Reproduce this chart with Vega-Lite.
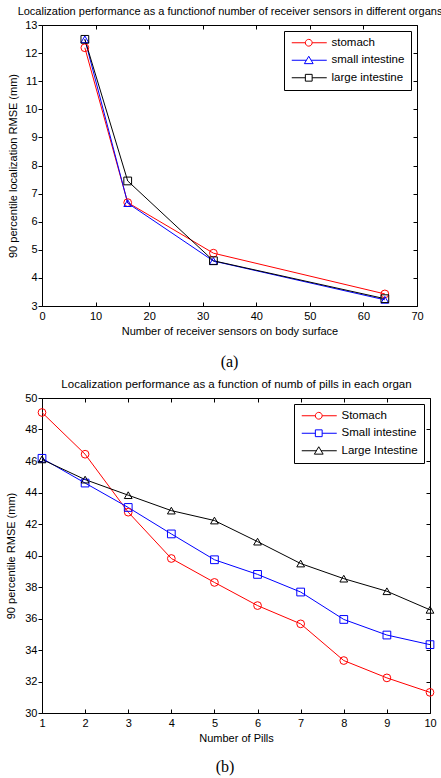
{
  "$schema": "https://vega.github.io/schema/vega-lite/v6.json",
  "padding": {"left": 5, "top": 5, "right": 0, "bottom": 0},
  "background": "white",
  "datasets": {
    "a": [
      {"s": "stomach", "n": 8, "v": 12.19},
      {"s": "stomach", "n": 16, "v": 6.68},
      {"s": "stomach", "n": 32, "v": 4.88},
      {"s": "stomach", "n": 64, "v": 3.43},
      {"s": "small intestine", "n": 8, "v": 12.49},
      {"s": "small intestine", "n": 16, "v": 6.66},
      {"s": "small intestine", "n": 32, "v": 4.6},
      {"s": "small intestine", "n": 64, "v": 3.22},
      {"s": "large intestine", "n": 8, "v": 12.49},
      {"s": "large intestine", "n": 16, "v": 7.45},
      {"s": "large intestine", "n": 32, "v": 4.61},
      {"s": "large intestine", "n": 64, "v": 3.26}
    ],
    "b": [
      {"s": "Stomach", "n": 1, "v": 49.08},
      {"s": "Stomach", "n": 2, "v": 46.43},
      {"s": "Stomach", "n": 3, "v": 42.75},
      {"s": "Stomach", "n": 4, "v": 39.81},
      {"s": "Stomach", "n": 5, "v": 38.29},
      {"s": "Stomach", "n": 6, "v": 36.82},
      {"s": "Stomach", "n": 7, "v": 35.66},
      {"s": "Stomach", "n": 8, "v": 33.33},
      {"s": "Stomach", "n": 9, "v": 32.23},
      {"s": "Stomach", "n": 10, "v": 31.31},
      {"s": "Small intestine", "n": 1, "v": 46.17},
      {"s": "Small intestine", "n": 2, "v": 44.6},
      {"s": "Small intestine", "n": 3, "v": 43.05},
      {"s": "Small intestine", "n": 4, "v": 41.37},
      {"s": "Small intestine", "n": 5, "v": 39.73},
      {"s": "Small intestine", "n": 6, "v": 38.8},
      {"s": "Small intestine", "n": 7, "v": 37.68},
      {"s": "Small intestine", "n": 8, "v": 35.94},
      {"s": "Small intestine", "n": 9, "v": 34.95},
      {"s": "Small intestine", "n": 10, "v": 34.34},
      {"s": "Large Intestine", "n": 1, "v": 46.1},
      {"s": "Large Intestine", "n": 2, "v": 44.82},
      {"s": "Large Intestine", "n": 3, "v": 43.83},
      {"s": "Large Intestine", "n": 4, "v": 42.85},
      {"s": "Large Intestine", "n": 5, "v": 42.22},
      {"s": "Large Intestine", "n": 6, "v": 40.88},
      {"s": "Large Intestine", "n": 7, "v": 39.49},
      {"s": "Large Intestine", "n": 8, "v": 38.53},
      {"s": "Large Intestine", "n": 9, "v": 37.73},
      {"s": "Large Intestine", "n": 10, "v": 36.55}
    ]
  },
  "config": {
    "font": "Liberation Sans",
    "view": {"stroke": "black", "strokeWidth": 1},
    "axis": {
      "grid": false, "domain": false, "tickColor": "black", "tickWidth": 1,
      "labelColor": "black", "titleColor": "black", "labelFontSize": 11, "titleFontSize": 11,
      "titleFontWeight": "normal", "labelFlush": false, "labelOverlap": false
    },
    "legend": {
      "orient": "top-right", "offset": 6, "strokeColor": "black", "fillColor": "white",
      "padding": 6, "labelFontSize": 11.5, "labelColor": "black", "symbolSize": 64,
      "symbolStrokeWidth": 1, "rowPadding": 4.5, "labelOffset": 30
    },
    "title": {"font": "Liberation Serif", "fontSize": 16, "fontWeight": "normal", "color": "black"}
  },
  "spacing": 7,
  "vconcat": [
    {
      "width": 375, "height": 281,
      "data": {"name": "a"},
      "title": {"text": "(a)", "orient": "bottom", "offset": 18},
      "layer": [
        {
          "mark": {"type": "line", "strokeWidth": 1},
          "encoding": {
            "x": {"field": "n", "type": "quantitative", "scale": {"domain": [0, 70], "nice": false},
              "axis": {"orient": "bottom", "values": [0, 10, 20, 30, 40, 50, 60, 70], "tickSize": -4, "labelPadding": 8,
                "title": "Number of receiver sensors on body surface", "titlePadding": 4}},
            "y": {"field": "v", "type": "quantitative", "scale": {"domain": [3, 13], "nice": false, "zero": false},
              "axis": {"orient": "left", "values": [3, 4, 5, 6, 7, 8, 9, 10, 11, 12, 13], "tickSize": 4, "labelPadding": 1,
                "title": "90 percentile localization RMSE (mm)", "titlePadding": 6}},
            "color": {"field": "s", "type": "nominal",
              "scale": {"domain": ["stomach", "small intestine", "large intestine"], "range": ["#ff0000", "#0000ff", "#000000"]},
              "legend": null}
          }
        },
        {
          "mark": {"type": "point", "filled": false, "size": 60, "strokeWidth": 1, "opacity": 1},
          "encoding": {
            "x": {"field": "n", "type": "quantitative", "scale": {"domain": [0, 70], "nice": false}, "axis": null},
            "y": {"field": "v", "type": "quantitative", "scale": {"domain": [3, 13], "nice": false, "zero": false}, "axis": null},
            "color": {"field": "s", "type": "nominal",
              "scale": {"domain": ["stomach", "small intestine", "large intestine"], "range": ["#ff0000", "#0000ff", "#000000"]},
              "legend": null},
            "shape": {"field": "s", "type": "nominal",
              "scale": {"domain": ["stomach", "small intestine", "large intestine"], "range": ["circle", "triangle-up", "square"]},
              "legend": null}
          }
        },
        {
          "transform": [{"filter": "datum.n < 0"}],
          "mark": {"type": "point", "filled": false, "size": 64, "strokeWidth": 1, "opacity": 1},
          "encoding": {
            "x": {"field": "n", "type": "quantitative", "scale": {"domain": [0, 70], "nice": false},
              "axis": {"orient": "top", "values": [0, 10, 20, 30, 40, 50, 60, 70], "labels": false, "tickSize": -4,
                "title": "Localization performance as a functionof number of receiver sensors in different organs", "titlePadding": 8}},
            "y": {"field": "v", "type": "quantitative", "scale": {"domain": [3, 13], "nice": false, "zero": false},
              "axis": {"orient": "right", "values": [3, 4, 5, 6, 7, 8, 9, 10, 11, 12, 13], "labels": false, "tickSize": -4, "title": null}},
            "color": {"field": "s", "type": "nominal",
              "scale": {"domain": ["stomach", "small intestine", "large intestine"], "range": ["#ff0000", "#0000ff", "#000000"]},
              "legend": {"title": null}},
            "shape": {"field": "s", "type": "nominal",
              "scale": {"domain": ["stomach", "small intestine", "large intestine"],
                "range": [
                  "M-1,0L2.4,0M4.1,0L7.75,0M4.1,0A0.85,0.85,0,1,1,2.4,0A0.85,0.85,0,1,1,4.1,0",
                  "M-1,0L2.66,0M3.84,0L7.75,0M3.25,-1L4.35,0.85L2.15,0.85Z",
                  "M-1,0L2.4,0M4.1,0L7.75,0M2.4,-0.85L4.1,-0.85L4.1,0.85L2.4,0.85Z"
                ]},
              "legend": {"title": null}}
          }
        }
      ],
      "resolve": {"axis": {"x": "independent", "y": "independent"}, "scale": {"shape": "independent", "color": "independent"}}
    },
    {
      "width": 388, "height": 315,
      "data": {"name": "b"},
      "title": {"text": "(b)", "orient": "bottom", "offset": 16, "dx": -11},
      "layer": [
        {
          "mark": {"type": "line", "strokeWidth": 1},
          "encoding": {
            "x": {"field": "n", "type": "quantitative", "scale": {"domain": [1, 10], "nice": false, "zero": false},
              "axis": {"orient": "bottom", "values": [1, 2, 3, 4, 5, 6, 7, 8, 9, 10], "tickSize": -4, "labelPadding": 8,
                "title": "Number of Pills", "titlePadding": 4}},
            "y": {"field": "v", "type": "quantitative", "scale": {"domain": [30, 50], "nice": false, "zero": false},
              "axis": {"orient": "left", "values": [30, 32, 34, 36, 38, 40, 42, 44, 46, 48, 50], "tickSize": 4, "labelPadding": 1,
                "title": "90 percentile RMSE (mm)", "titlePadding": 8}},
            "color": {"field": "s", "type": "nominal",
              "scale": {"domain": ["Stomach", "Small intestine", "Large Intestine"], "range": ["#ff0000", "#0000ff", "#000000"]},
              "legend": null}
          }
        },
        {
          "mark": {"type": "point", "filled": false, "size": 60, "strokeWidth": 1, "opacity": 1},
          "encoding": {
            "x": {"field": "n", "type": "quantitative", "scale": {"domain": [1, 10], "nice": false, "zero": false}, "axis": null},
            "y": {"field": "v", "type": "quantitative", "scale": {"domain": [30, 50], "nice": false, "zero": false}, "axis": null},
            "color": {"field": "s", "type": "nominal",
              "scale": {"domain": ["Stomach", "Small intestine", "Large Intestine"], "range": ["#ff0000", "#0000ff", "#000000"]},
              "legend": null},
            "shape": {"field": "s", "type": "nominal",
              "scale": {"domain": ["Stomach", "Small intestine", "Large Intestine"], "range": ["circle", "square", "triangle-up"]},
              "legend": null}
          }
        },
        {
          "transform": [{"filter": "datum.n < 0"}],
          "mark": {"type": "point", "filled": false, "size": 64, "strokeWidth": 1, "opacity": 1},
          "encoding": {
            "x": {"field": "n", "type": "quantitative", "scale": {"domain": [1, 10], "nice": false, "zero": false},
              "axis": {"orient": "top", "values": [1, 2, 3, 4, 5, 6, 7, 8, 9, 10], "labels": false, "tickSize": -4,
                "title": "Localization performance as a function of numb of pills in each organ", "titleFontSize": 11.5, "titlePadding": 8}},
            "y": {"field": "v", "type": "quantitative", "scale": {"domain": [30, 50], "nice": false, "zero": false},
              "axis": {"orient": "right", "values": [30, 32, 34, 36, 38, 40, 42, 44, 46, 48, 50], "labels": false, "tickSize": -4, "title": null}},
            "color": {"field": "s", "type": "nominal",
              "scale": {"domain": ["Stomach", "Small intestine", "Large Intestine"], "range": ["#ff0000", "#0000ff", "#000000"]},
              "legend": {"title": null}},
            "shape": {"field": "s", "type": "nominal",
              "scale": {"domain": ["Stomach", "Small intestine", "Large Intestine"],
                "range": [
                  "M-1,0L2.4,0M4.1,0L7.75,0M4.1,0A0.85,0.85,0,1,1,2.4,0A0.85,0.85,0,1,1,4.1,0",
                  "M-1,0L2.4,0M4.1,0L7.75,0M2.4,-0.85L4.1,-0.85L4.1,0.85L2.4,0.85Z",
                  "M-1,0L2.66,0M3.84,0L7.75,0M3.25,-1L4.35,0.85L2.15,0.85Z"
                ]},
              "legend": {"title": null}}
          }
        }
      ],
      "resolve": {"axis": {"x": "independent", "y": "independent"}, "scale": {"shape": "independent", "color": "independent"}}
    }
  ]
}
